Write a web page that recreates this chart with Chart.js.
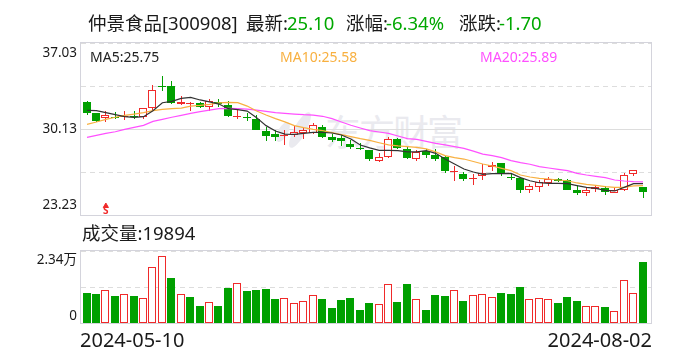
<!DOCTYPE html>
<html>
<head>
<meta charset="utf-8">
<title>仲景食品</title>
<script src="https://cdn.jsdelivr.net/npm/chart.js@4/dist/chart.umd.min.js"></script>
<style>
  html, body { margin: 0; padding: 0; background: #fff; }
  #page { position: relative; width: 688px; height: 360px; overflow: hidden; font-family: "Noto Sans", "Noto Sans CJK SC", sans-serif; color: #1a1a1a; }
  #page span { position: absolute; white-space: nowrap; line-height: 24px; }
  .title { font-size: 18.5px; top: 11px; }
  .green { color: #00a800; }
  .ma { font-size: 14px; top: 45px; }
  .mark { font-family: "Noto Sans CJK SC", sans-serif; font-size: 36px; top: 107px !important; line-height: 46px !important; color: #eaeaef; letter-spacing: -2px; }
  canvas { position: absolute; left: 0; }
</style>
</head>
<body>
<div id="page">
  <span class="mark" style="left:325px">东方财富</span>
  <canvas id="priceChart" width="688" height="230" style="top:0"></canvas>
  <canvas id="volumeChart" width="688" height="120" style="top:240px"></canvas>
  <span class="title" style="left:88px">仲景食品[300908]</span>
  <span class="title" style="left:246px">最新:</span>
  <span class="title green" style="left:287px">25.10</span>
  <span class="title" style="left:346px">涨幅:</span>
  <span class="title green" style="left:386px">-6.34%</span>
  <span class="title" style="left:459px">涨跌:</span>
  <span class="title green" style="left:499px">-1.70</span>
  <span class="ma" style="left:90px;color:#222">MA5:25.75</span>
  <span class="ma" style="left:280px;color:#f8b040">MA10:25.58</span>
  <span class="ma" style="left:480px;color:#ff50ff">MA20:25.89</span>
  <span class="title" style="left:82px;top:221px">成交量:19894</span>
</div>
<script>
const open = [32.30,31.39,30.99,31.12,31.09,31.15,31.07,31.79,33.60,33.56,32.11,32.19,32.19,31.87,32.32,32.03,31.09,31.07,30.96,29.95,
  29.73,29.59,29.65,29.81,29.83,30.27,29.49,29.38,28.93,28.58,28.44,27.54,27.86,29.33,28.50,27.70,28.34,28.04,27.91,26.74,
  26.52,26.14,26.38,27.06,27.40,26.30,26.20,25.26,25.45,25.77,26.12,26.01,25.24,24.97,25.34,25.42,25.02,25.21,26.54,25.48];
const close = [31.44,30.80,31.23,31.04,31.15,31.07,31.79,33.23,33.56,32.19,32.27,32.24,31.92,32.40,32.11,31.20,31.15,31.01,30.07,29.59,
  29.45,29.65,29.91,30.03,30.43,29.51,29.25,29.17,28.69,28.53,27.72,27.86,29.30,28.61,27.80,28.28,28.07,27.72,26.76,26.78,
  26.12,26.22,26.58,27.22,26.50,26.25,25.24,25.53,25.90,26.14,25.96,25.24,25.02,25.21,25.45,25.08,25.24,26.41,26.82,25.10];
const high = [32.38,31.44,31.55,31.52,31.55,31.55,31.84,33.66,34.38,33.96,32.78,32.30,32.30,32.51,32.51,32.40,31.65,31.44,31.23,30.27,
  30.05,30.01,30.37,30.21,30.59,30.45,29.73,29.62,29.25,28.98,28.44,28.18,29.46,29.38,28.77,28.44,28.50,28.50,27.99,27.16,
  26.66,26.52,27.30,27.48,27.40,26.58,26.25,25.72,26.04,26.25,26.20,26.09,25.61,25.50,25.56,25.56,25.45,26.60,26.82,25.48];
const low = [31.28,30.69,30.72,30.91,30.85,30.91,30.96,31.65,33.20,32.14,32.03,31.60,31.84,31.60,31.92,31.12,30.93,30.80,30.05,29.19,
  29.19,28.87,29.51,29.35,29.73,29.41,29.09,28.79,28.50,28.44,27.59,27.51,27.83,28.55,27.70,27.54,27.78,27.56,26.60,25.96,
  25.98,25.64,26.04,26.76,26.38,26.04,24.97,25.00,25.08,25.56,25.85,25.24,24.83,24.75,25.08,24.83,24.97,25.16,26.33,24.59];

const ma5 = [31.63,31.60,31.44,31.28,31.12,31.07,31.12,31.60,32.24,32.35,32.59,32.67,32.46,32.30,32.13,31.76,31.68,31.57,31.04,30.40,
  29.97,29.72,29.70,29.78,29.86,29.86,29.81,29.65,29.33,28.85,28.61,28.42,28.42,28.39,28.29,28.29,28.39,28.18,27.72,27.32,
  26.92,26.68,26.49,26.55,26.55,26.57,26.23,25.98,25.82,25.77,25.77,25.74,25.58,25.45,25.37,25.21,25.16,25.45,25.74,25.75];
const ma10 = [30.50,30.69,30.90,31.07,31.23,31.33,31.44,31.60,31.71,31.76,31.81,31.97,32.03,32.11,32.22,32.27,32.24,31.97,31.57,31.25,
  30.96,30.70,30.40,30.24,30.10,30.00,29.84,29.68,29.52,29.36,29.22,29.03,28.85,28.77,28.71,28.66,28.53,28.29,27.99,27.83,
  27.72,27.52,27.32,27.16,26.97,26.79,26.44,26.28,26.17,26.12,26.04,25.98,25.80,25.69,25.61,25.50,25.45,25.45,25.56,25.58];
const ma20 = [29.46,29.62,29.78,29.91,30.10,30.26,30.42,30.74,30.90,31.07,31.23,31.39,31.52,31.65,31.76,31.79,31.76,31.73,31.65,31.55,
  31.44,31.39,31.33,31.28,31.25,31.15,30.96,30.69,30.43,30.21,30.00,29.89,29.78,29.57,29.36,29.30,29.14,28.98,28.85,28.71,
  28.58,28.35,28.12,27.99,27.83,27.59,27.43,27.30,27.11,27.00,26.89,26.79,26.57,26.44,26.33,26.23,26.04,25.96,25.90,25.89];

const volume = [9750,9425,10617,8775,9317,8775,8017,18090,21670,14625,9317,8450,5525,6717,5525,11375,12890,10400,10725,11050,
  7800,8017,6392,7042,8992,7800,4875,7475,8125,4225,6500,6067,12567,6825,12675,7800,4225,9100,8775,10617,
  7150,8992,9317,8342,9750,9425,11700,7692,8017,7692,6500,8450,7150,5417,5417,5200,3792,13867,9642,19894];
const volumeUp = [2,4,6,7,8,10,13,16,21,22,23,24,31,32,35,39,41,42,43,47,48,49,53,54,56,57,58];

const priceTicks = [23.23, 26.68, 30.13, 33.58, 37.03];
const priceLabels = ['23.23', '30.13', '37.03'];
const volumeTicks = [0, 11700, 23400];
const volumeLabels = ['0', '2.34万'];
const dateLabels = ['2024-05-10', '2024-08-02'];
const sellSignal = [{ x: 2, y: 23.95 }];

const RED = '#f02a2a';
const GREEN = '#00a000';
const FRAME = '#d4d4dc';
const GRID = '#dddddd';
const index = open.map((_, i) => i);
// first bar sits 6px in from the frame, last one about 8px
const xRange = { min: -0.637, max: 59.85 };

const candleColor = ctx => (close[ctx.dataIndex] >= open[ctx.dataIndex] ? RED : GREEN);
const candleFill = ctx => (close[ctx.dataIndex] >= open[ctx.dataIndex] ? '#ffffff' : GREEN);
const lineSet = (data, color, order) => ({
  type: 'line',
  data: index.map(i => ({ x: i, y: data[i] })),
  borderColor: color,
  borderWidth: 1.2,
  pointRadius: 0,
  order: order
});

// bars land on fractional pixels on a linear axis, snap them like the original
const snapBars = {
  id: 'snapBars',
  beforeDatasetsDraw(chart) {
    chart.data.datasets.forEach((ds, n) => {
      if (ds.type === 'line' || ds.type === 'scatter') return;
      chart.getDatasetMeta(n).data.forEach(el => {
        el.x = Math.floor(el.x + 0.01) + (ds.wick ? 0.5 : 0);
        el.y = Math.round(el.y);
        el.base = Math.round(el.base);
        if (Math.abs(el.base - el.y) < 1) el.base = el.y + 1;
      });
    });
  }
};

// frame around the plot, drawn last so the grid ends stay under it
const frame = {
  id: 'frame',
  afterDraw(chart) {
    const { left, right, top, bottom } = chart.chartArea;
    const c = chart.ctx;
    c.save();
    c.strokeStyle = FRAME;
    c.lineWidth = 1;
    c.strokeRect(left - 0.5, top - 0.5, right - left + 1, bottom - top + 1);
    c.restore();
  }
};

// end labels sit inside the plot height, the native tick labels can't do that per tick
function drawYLabels(chart, labels) {
  const c = chart.ctx;
  const scale = chart.scales.y;
  c.save();
  c.font = '13.5px "Noto Sans", "Noto Sans CJK SC"';
  c.fillStyle = '#1a1a1a';
  c.textAlign = 'right';
  c.textBaseline = 'middle';
  labels.forEach(l => {
    const y = labels.length === 3
      ? { '37.03': scale.top + 10, '30.13': scale.getPixelForValue(30.13), '23.23': scale.bottom - 10 }[l]
      : (l === '0' ? scale.bottom - 7 : scale.top + 9.5);
    c.fillText(l, 77, y);
  });
  c.restore();
}

const priceText = {
  id: 'priceText',
  beforeDatasetsDraw(chart) {
    // watermark logo
    const c = chart.ctx;
    c.save();
    c.fillStyle = '#eaeaef';
    [[283, 132, 5, 11], [300, 130, 6, 20]].forEach(p => {
      c.beginPath();
      c.ellipse(p[0], p[1], p[2], p[3], 0.5, 0, Math.PI * 2);
      c.fill();
    });
    c.restore();
  },
  afterDraw(chart) {
    drawYLabels(chart, priceLabels);
    const c = chart.ctx;
    const x = chart.scales.x.getPixelForValue(sellSignal[0].x);
    c.save();
    c.font = 'bold 10px "Noto Sans"';
    c.fillStyle = RED;
    c.textAlign = 'center';
    c.textBaseline = 'bottom';
    c.fillText('S', x, chart.chartArea.bottom + 1);
    c.restore();
  }
};

const volumeText = {
  id: 'volumeText',
  afterDraw(chart) {
    drawYLabels(chart, volumeLabels);
    const c = chart.ctx;
    c.save();
    c.font = '20px "Noto Sans"';
    c.fillStyle = '#1a1a1a';
    c.textBaseline = 'middle';
    c.textAlign = 'left';
    c.fillText(dateLabels[0], 80, 101);
    c.textAlign = 'right';
    c.fillText(dateLabels[1], 652, 101);
    c.restore();
  }
};

const baseOptions = (padding, min, max, ticks) => ({
  responsive: false,
  animation: false,
  events: [],
  layout: { padding },
  plugins: { legend: { display: false }, tooltip: { enabled: false } },
  scales: {
    x: { type: 'linear', display: false, offset: false, min: xRange.min, max: xRange.max },
    y: {
      min, max,
      afterBuildTicks: scale => { scale.ticks = ticks.map(v => ({ value: v })); },
      afterFit: scale => { scale.width = 0; },
      ticks: { display: false },
      border: {
        display: false,
        dash: ctx => (ticks.length === 5 && ctx.tick.value === 30.13 ? [] : [5, 4])
      },
      grid: { color: GRID, lineWidth: 1, drawTicks: false }
    }
  }
});

new Chart(document.getElementById('priceChart'), {
  type: 'bar',
  data: {
    datasets: [
      {
        wick: true,
        data: index.map(i => ({ x: i, y: [low[i], high[i]] })),
        backgroundColor: candleColor,
        barThickness: 1,
        inflateAmount: 0,
        grouped: false,
        order: 5
      },
      {
        data: index.map(i => ({ x: i, y: [open[i], close[i]] })),
        backgroundColor: candleFill,
        borderColor: candleColor,
        borderWidth: 1,
        borderSkipped: false,
        barThickness: 8,
        inflateAmount: 0,
        grouped: false,
        order: 4
      },
      lineSet(ma20, '#ff50ff', 3),
      lineSet(ma10, '#f8b040', 2),
      lineSet(ma5, '#333333', 1),
      {
        type: 'scatter',
        data: sellSignal,
        backgroundColor: RED,
        borderColor: RED,
        pointStyle: 'triangle',
        pointRadius: 3,
        order: 0
      }
    ]
  },
  options: baseOptions({ left: 81, right: 37, top: 43, bottom: 15 }, 23.23, 37.03, priceTicks),
  plugins: [snapBars, frame, priceText]
});

new Chart(document.getElementById('volumeChart'), {
  type: 'bar',
  data: {
    datasets: [{
      data: index.map(i => ({ x: i, y: volume[i] })),
      backgroundColor: index.map(i => (volumeUp.includes(i) ? '#ffffff' : GREEN)),
      borderColor: index.map(i => (volumeUp.includes(i) ? RED : GREEN)),
      borderWidth: 1,
      borderSkipped: false,
      barThickness: 8,
      inflateAmount: 0
    }]
  },
  options: baseOptions({ left: 81, right: 37, top: 11, bottom: 37 }, 0, 23400, volumeTicks),
  plugins: [snapBars, frame, volumeText]
});
</script>
</body>
</html>
